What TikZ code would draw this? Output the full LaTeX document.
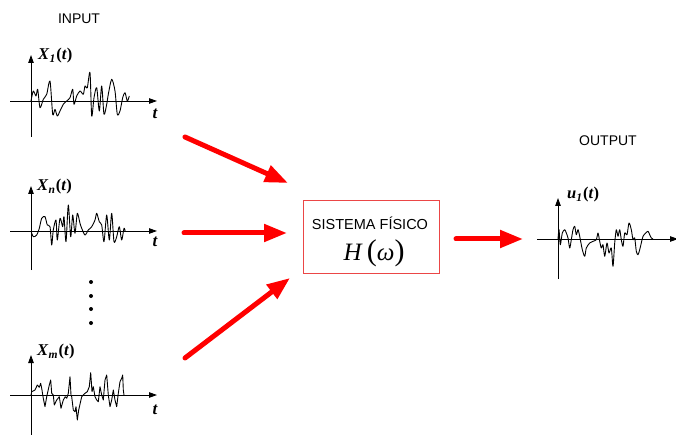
\documentclass[tikz,border=0pt]{standalone}
\usepackage{fontspec}
\setmainfont{Liberation Serif}
\newfontfamily\arialf{Liberation Sans}
\usetikzlibrary{arrows.meta}
\definecolor{boxred}{RGB}{235,70,70}
\newcommand{\sigl}[2]{\textit{#1}\textsubscript{\textit{#2}}\kern0.5pt\textup{(}\textit{t}\textup{)}}
\begin{document}
\begin{tikzpicture}[x=1pt,y=-1pt,
  axis/.style={line width=0.9pt, -{Triangle[length=8pt,width=5.5pt]}},
  sig/.style={line width=0.9pt, line join=round},
  bigarrow/.style={red, line width=5pt, line cap=round, -{Triangle[length=23pt,width=17pt]}},
  lbl/.style={font=\fontsize{14}{16}\selectfont\arialf, inner sep=0pt},
  sym/.style={font=\fontsize{16.5}{18}\selectfont\bfseries, inner sep=0pt, anchor=west},
  tl/.style={font=\fontsize{17}{18}\selectfont\bfseries\itshape, inner sep=0pt},
]
\useasboundingbox (0,0) rectangle (676,435);

% labels
\node[lbl] (inp) at (79,19) {INPUT};
\node[lbl] (outp) at (608,141) {OUTPUT};

% plot 1
\draw[axis] (31,137) -- (31,55);
\draw[axis] (10,101) -- (157,101);
\node[sym] (x1) at (38,56) {\sigl{X}{1}};
\node[tl] (t1) at (155,114) {t};
\draw[sig, shift={(31,101)}] plot[smooth, tension=0.45] coordinates {
(0,0) (2.3,-10) (5,-5) (6.7,-11.7) (9,6.7) (12.3,-1.7) (15.7,-6.7) (19,-20) (21.7,13.3) (24,8.3) (26.3,15) (29,10) (32.3,3.3) (35.7,0) (39,-3.3) (41.7,-11.7) (43,3.3) (45.7,-5) (49,-10) (52.3,-6.7) (54,-15) (56.3,-13.3) (59,-28.3) (60.7,15) (63,-3.3) (65.7,-13.3) (68.3,10) (70.7,-15) (73,13.3) (75.7,3.3) (77.3,-6.7) (80.7,-21.7) (84,-10) (86.3,13.3) (89,10) (91.7,-3.3) (94,-8.3) (96.3,0) (98.3,-5)};

% plot 2
\draw[axis] (31,270) -- (31,186);
\draw[axis] (10,231) -- (157,231);
\node[sym] (x2) at (37,187) {\sigl{X}{n}};
\node[tl] (t2) at (155,242) {t};
\draw[sig, shift={(31,231)}] plot[smooth, tension=0.45] coordinates {
(0,0) (2.3,5.7) (5.7,4) (8.3,-2.7) (10.7,-12.7) (14,-14.3) (16.3,-6) (19,-4.3) (20.7,14) (22.3,-1) (25,-11) (26.3,9) (29,-12.7) (31.7,-4.3) (33,-14.3) (35,10.7) (37.3,-26) (39.7,5.7) (41.7,-16) (44,2.3) (46.3,-17.7) (49,-7.7) (50.7,-2.7) (54,4) (57.3,-1) (60.7,-4.3) (64,-11) (65.7,-17.7) (68.3,-9.3) (70.7,-6) (73,10.7) (75.7,-16) (78.3,9) (80.7,-17.7) (83,10.7) (85.7,5.7) (88.3,-4.3) (90.7,9) (93,-2.7) (94.3,0.7)};

% dots
\fill (91,282) circle (2);
\fill (91,296) circle (2);
\fill (91,309) circle (2);
\fill (91,323) circle (2);

% plot 3
\draw[axis] (31,436) -- (31,355);
\draw[axis] (10,395) -- (157,395);
\node[sym] (x3) at (37,352) {\sigl{X}{m}};
\node[tl] (t3) at (155,410) {t};
\draw[sig, shift={(31,395)}] plot coordinates {
(0,0) (0.7,-3.3) (4,-5) (6.3,-10) (8.3,-7.7) (9.7,-11.7) (10.7,-6.7) (12.3,3.3) (14,11.7) (15.7,1.7) (18.3,-10) (19.7,-15) (20.7,-1.7) (22.3,0) (23.3,10) (25.7,5) (28.3,1.7) (30,13.3) (32.3,5) (34.3,1.7) (35.7,3.3) (37.3,-1.7) (39,-18.3) (40,0) (40.7,1.7) (42.3,15) (44,16.7) (45,11.7) (46.3,25) (47.7,15) (50.7,1.7) (52.3,0) (54,-1.7) (56.3,-3.3) (58.3,-8.3) (59.7,-22.3) (61,-3.3) (62.3,-8.3) (64,1.7) (65.7,5) (67.3,6.7) (69,-8.3) (70.7,0) (72.3,5) (74,-15) (75.7,-20) (77.3,0) (79,11.7) (80.7,5) (82.3,-5) (84,5) (85.7,11.7) (87.3,-1.7) (89,-13.3) (90.7,-16.7) (91.7,-20) (92.3,-5) (93,0)};

% output plot
\draw[axis] (558,279) -- (558,198);
\draw[axis] (537,239) -- (678,239);
\node[sym] (u1) at (567,195) {\sigl{u}{1}};
\draw[sig, shift={(558,239)}] plot[smooth, tension=0.45] coordinates {
(0,0) (1,-9.3) (2.3,5.7) (4.3,-6) (6.7,-9.3) (8.3,-6) (10,-1) (11.7,9) (13.3,0.7) (15,-9.3) (16.7,-12.7) (18.3,-4.3) (20,-9.3) (21.7,-2.7) (24.3,10.7) (26.7,17.3) (28.3,9) (31.7,4) (35,2.3) (38.3,0.7) (40,-6) (41.7,2.3) (43.3,9) (45,5.7) (46.7,17.3) (49,4) (51,14) (53.3,9) (55,27.3) (56.7,4) (58.3,-9.3) (60,-2.7) (61.7,-9.3) (63.3,0.7) (65,7.3) (66.7,-6) (69,-4.3) (71,-16) (73.3,-9.3) (75,0.7) (76.7,-1) (78.3,12.3) (80,15.7) (81.7,10.7) (83.3,4) (85,-2.7) (87.7,-6) (90,-7.7) (91.7,-4.3) (93.3,-1) (95,0)};

% system box
\node[draw=boxred, line width=1pt, minimum width=136pt, minimum height=72pt, inner sep=0pt] (sys) at (371,237) {};
\node[lbl, font=\fontsize{14.5}{16}\selectfont\arialf] (sysl) at (370,223) {SISTEMA FÍSICO};
\node[inner sep=0pt] (hw) at (374,253) {\fontsize{25}{27}\selectfont\textit{H}\,{\fontsize{30}{32}\selectfont(}\textit{ω}{\fontsize{30}{32}\selectfont)}};

% red arrows
\coordinate (a1s) at (185,137);
\coordinate (a1e) at (288,183);
\coordinate (a2s) at (184,233);
\coordinate (a2e) at (287,233);
\coordinate (a3s) at (185,358);
\coordinate (a3e) at (290,278);
\coordinate (a4s) at (456,239);
\coordinate (a4e) at (523,239);
\draw[bigarrow] (a1s) -- (a1e);
\draw[bigarrow] (a2s) -- (a2e);
\draw[bigarrow] (a3s) -- (a3e);
\draw[bigarrow] (a4s) -- (a4e);
\end{tikzpicture}
\end{document}
